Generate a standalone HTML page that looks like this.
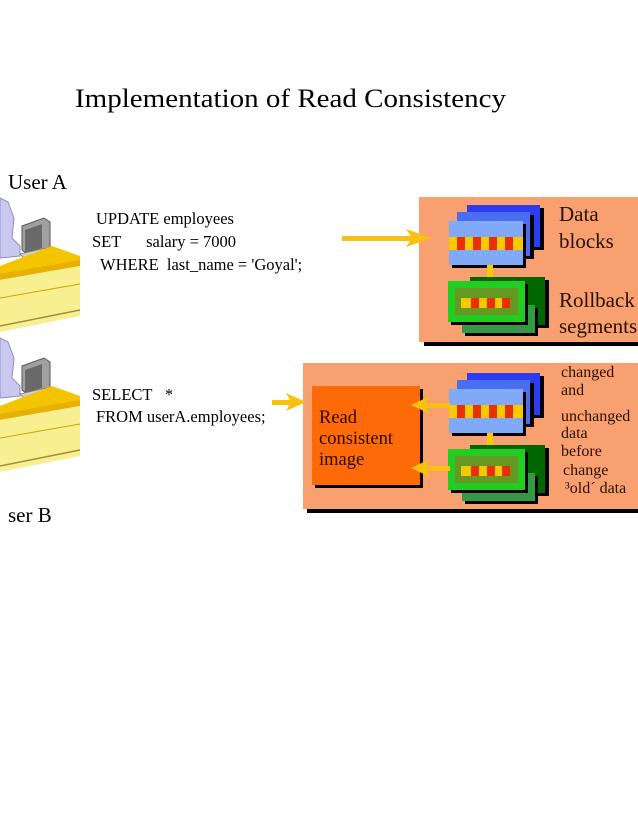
<!DOCTYPE html>
<html><head><meta charset="utf-8"><style>
html,body{margin:0;padding:0;background:#fff;}
svg{display:block;font-family:"Liberation Serif",serif;}
</style></head><body>
<svg width="638" height="826" viewBox="0 0 638 826" xmlns="http://www.w3.org/2000/svg">
<defs>
<g id="desk">
  <path d="M0,0 L8,4 L14,20 L12,40 L20,48 L20,58 L0,60 Z" fill="#c8c8f0" stroke="#9090c0" stroke-width="1"/>
  <path d="M22,28 L44,20 L50,24 L50,52 L30,58 L22,52 Z" fill="#a0a0a0" stroke="#555" stroke-width="1"/>
  <path d="M25,32 L42,26 L42,50 L25,55 Z" fill="#6a6a6a"/>
  <path d="M20,56 L46,50 L54,56 L28,64 Z" fill="#d0d0d0" stroke="#777" stroke-width="0.8"/>
  <path d="M0,68 L52,48 L80,58 L80,66 L0,80 Z" fill="#f5c400"/>
  <path d="M0,76 L80,62 L80,68 L0,82 Z" fill="#e8b000"/>
  <path d="M0,82 L80,68 L80,118 L0,134 Z" fill="#f8f090"/>
  <path d="M0,100 L80,86" stroke="#c8a800" stroke-width="1"/>
  <path d="M0,128 L80,112" stroke="#a09040" stroke-width="1.5"/>
</g>
<g id="blocks">
  <rect x="471" y="208" width="73" height="42" fill="#000"/>
  <rect x="467" y="205" width="73" height="42" fill="#2c3cf0"/>
  <rect x="461" y="215" width="73" height="44" fill="#000"/>
  <rect x="457" y="212" width="73" height="44" fill="#4a6ef2"/>
  <rect x="452" y="224" width="74" height="44" fill="#000"/>
  <rect x="449" y="221" width="74" height="44" fill="#80aaf8"/>
  <rect x="449" y="237" width="74" height="13" fill="#f8c800"/>
  <rect x="457" y="237" width="8" height="13" fill="#e83000"/>
  <rect x="473" y="237" width="8" height="13" fill="#e83000"/>
  <rect x="489" y="237" width="8" height="13" fill="#e83000"/>
  <rect x="505" y="237" width="8" height="13" fill="#e83000"/>
  <rect x="487" y="265" width="6" height="16" fill="#f8c800"/>
  <rect x="474" y="280" width="75" height="48" fill="#000"/>
  <rect x="470" y="277" width="75" height="48" fill="#006600"/>
  <rect x="465" y="308" width="73" height="28" fill="#000"/>
  <rect x="462" y="305" width="73" height="28" fill="#339944"/>
  <rect x="451" y="284" width="77" height="41" fill="#000"/>
  <rect x="448" y="281" width="77" height="41" fill="#22cc22"/>
  <rect x="455" y="288" width="63" height="27" fill="#669922"/>
  <rect x="461" y="298" width="49" height="10" fill="#f8c800"/>
  <rect x="471" y="298" width="8" height="10" fill="#e83000"/>
  <rect x="487" y="298" width="8" height="10" fill="#e83000"/>
  <rect x="502" y="298" width="8" height="10" fill="#e83000"/>
</g>
</defs>

<text x="75" y="107" font-size="26" fill="#000" textLength="431" lengthAdjust="spacingAndGlyphs">Implementation of Read Consistency</text>

<text x="8" y="189" font-size="21" fill="#000">User A</text>
<use href="#desk" x="0" y="198"/>
<use href="#desk" x="0" y="338"/>
<text x="8" y="522" font-size="21" fill="#000">ser B</text>

<g font-size="16.5" fill="#000">
<text x="96" y="224">UPDATE employees</text>
<text x="92" y="247">SET&#160;&#160;&#160;&#160;&#160; salary = 7000</text>
<text x="100" y="270">WHERE&#160; last_name = 'Goyal';</text>
<text x="92" y="400">SELECT&#160;&#160; *</text>
<text x="96" y="422">FROM userA.employees;</text>
</g>

<rect x="424" y="341" width="214" height="5" fill="#000"/>
<rect x="419" y="197" width="219" height="145" fill="#f9a070"/>
<use href="#blocks"/>
<g font-size="21" fill="#2a1000">
<text x="559" y="221">Data</text>
<text x="559" y="248">blocks</text>
<text x="559" y="307">Rollback</text>
<text x="559" y="333">segments</text>
</g>

<rect x="342" y="236" width="72" height="5" fill="#f8c010"/>
<path d="M406,229 L432,238 L406,247 L412,238 Z" fill="#f8c010"/>

<rect x="307" y="508" width="331" height="5" fill="#000"/>
<rect x="303" y="363" width="335" height="146" fill="#f9a070"/>
<use href="#blocks" y="168"/>
<rect x="315" y="389" width="108" height="99" fill="#000"/>
<rect x="312" y="386" width="108" height="99" fill="#ff6a08"/>
<g font-size="18.5" fill="#2a0800">
<text x="319" y="423">Read</text>
<text x="319" y="444">consistent</text>
<text x="319" y="465">image</text>
</g>
<g font-size="16" fill="#2a1000">
<text x="561" y="377">changed</text>
<text x="561" y="395">and</text>
<text x="561" y="421">unchanged</text>
<text x="561" y="438">data</text>
<text x="561" y="456">before</text>
<text x="563" y="475">change</text>
<text x="565" y="493">³old´ data</text>
</g>

<rect x="272" y="400" width="22" height="5" fill="#f8c010"/>
<path d="M286,393 L306,402 L286,411 L291,402 Z" fill="#f8c010"/>
<rect x="422" y="403" width="28" height="5" fill="#f8c010"/>
<path d="M430,396 L411,405 L430,414 L425,405 Z" fill="#f8c010"/>
<rect x="422" y="466" width="28" height="5" fill="#f8c010"/>
<path d="M430,459 L411,468 L430,477 L425,468 Z" fill="#f8c010"/>
</svg>
</body></html>
